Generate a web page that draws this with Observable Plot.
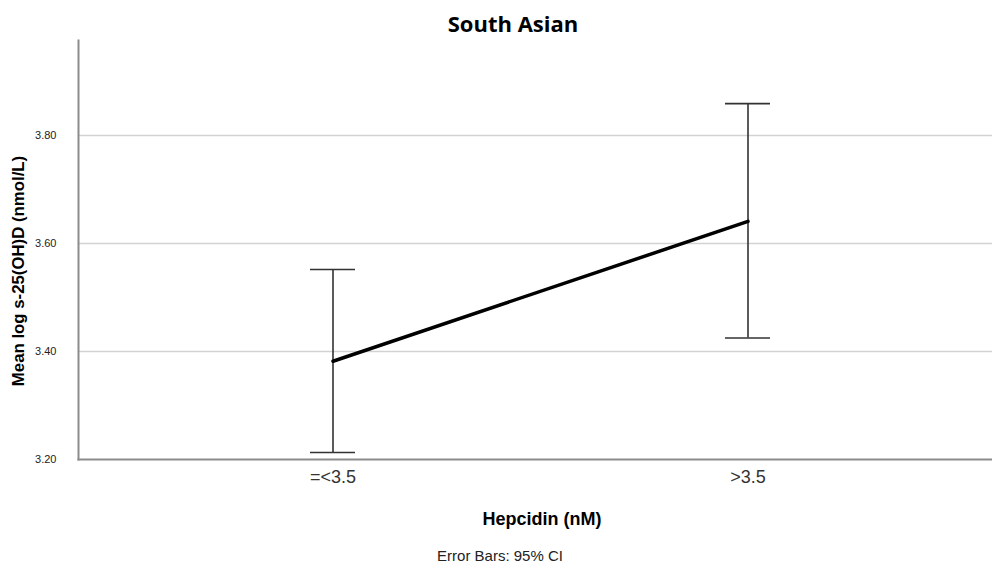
<!DOCTYPE html>
<html>
<head>
<meta charset="utf-8">
<script src="https://cdn.jsdelivr.net/npm/d3@7"></script>
<script src="https://cdn.jsdelivr.net/npm/@observablehq/plot@0.6"></script>
<style>
  html, body { margin: 0; padding: 0; background: #fff; }
  body { width: 992px; height: 565px; overflow: hidden; font-family: "Liberation Sans", Arial, sans-serif; }
  .band { position: relative; width: 992px; }
  .title { height: 40px; }
  .title span { position: absolute; left: 513px; top: 12px; transform: translateX(-50%); font-family: "Open Sans", sans-serif; font-weight: 700; font-size: 22px; line-height: 1; color: #000; white-space: nowrap; }
  .below { height: 70px; }
  .xlabel { position: absolute; left: 542px; top: 15px; transform: translateX(-50%); font-weight: 700; font-size: 18px; line-height: 1; color: #000; white-space: nowrap; }
  .caption { position: absolute; left: 500px; top: 53px; transform: translateX(-50%); font-size: 15px; line-height: 1; color: #222; white-space: nowrap; }
  svg { display: block; }
</style>
</head>
<body>
<script>
// Data
const groups = ["=<3.5", ">3.5"];
const means = [3.382, 3.641];
const lower = [3.213, 3.425];
const upper = [3.552, 3.859];
const yTicks = [3.2, 3.4, 3.6, 3.8];
const gridValues = [3.4, 3.6, 3.8];
const titleText = "South Asian";
const yLabel = "Mean log s-25(OH)D (nmol/L)";
const xLabel = "Hepcidin (nM)";
const captionText = "Error Bars: 95% CI";

const data = groups.map((g, i) => ({group: g, mean: means[i], lo: lower[i], hi: upper[i]}));

const title = document.createElement("div");
title.className = "band title";
title.innerHTML = `<span>${titleText}</span>`;
document.body.appendChild(title);

const chart = Plot.plot({
  width: 992,
  height: 455,
  marginTop: 0,
  marginBottom: 36,
  marginLeft: 78,
  marginRight: 0,
  style: {fontFamily: "Liberation Sans, Arial, sans-serif", background: "#fff", color: "#222", overflow: "visible"},
  x: {type: "band", domain: groups, paddingInner: 0.8918, paddingOuter: 0.5445, align: 0.511},
  y: {domain: [3.2, 3.976]},
  marks: [
    Plot.ruleY(gridValues, {stroke: "#d2d2d2", strokeWidth: 1.6}),
    Plot.frame({anchor: "left", stroke: "#8c8c8c", strokeWidth: 2}),
    Plot.frame({anchor: "bottom", stroke: "#8c8c8c", strokeWidth: 2}),
    Plot.axisY({ticks: yTicks, tickFormat: d3.format(".2f"), tickSize: 0, tickPadding: 22, fontSize: 11, label: null, fill: "#222"}),
    Plot.axisX({tickSize: 0, tickPadding: 11, fontSize: 18, label: null, fill: "#333"}),
    Plot.ruleX(data, {x: "group", y1: "lo", y2: "hi", stroke: "#333", strokeWidth: 1.6}),
    Plot.tickY(data, {x: "group", y: "hi", stroke: "#333", strokeWidth: 1.6}),
    Plot.tickY(data, {x: "group", y: "lo", stroke: "#333", strokeWidth: 1.6}),
    Plot.line(data, {x: "group", y: "mean", stroke: "#000", strokeWidth: 3.5}),
    Plot.text([yLabel], {frameAnchor: "left", textAnchor: "middle", text: d => d, rotate: -90, dx: -60, dy: 21, fontSize: 16.8, fontWeight: "bold", fill: "#000"})
  ]
});
document.body.appendChild(chart);

const below = document.createElement("div");
below.className = "band below";
below.innerHTML = `<div class="xlabel">${xLabel}</div><div class="caption">${captionText}</div>`;
document.body.appendChild(below);
</script>
</body>
</html>
